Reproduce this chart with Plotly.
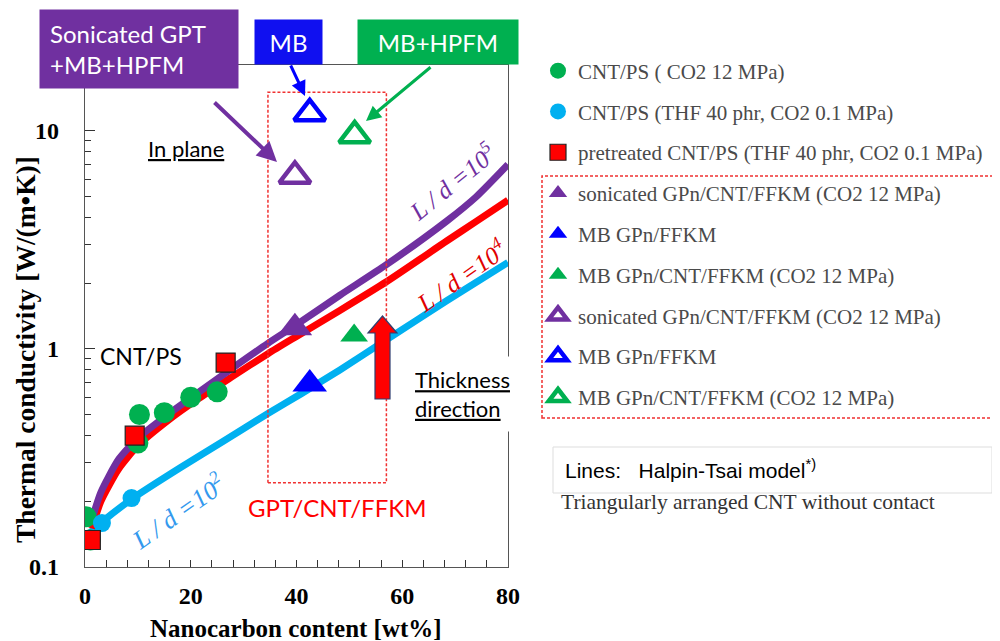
import plotly.graph_objects as go

# ---------------- data ----------------
curve_x = [1.3, 3, 6.3, 10, 15.7, 21.4, 28, 34.6, 40, 48.2, 57, 68.4, 74, 80]
curve_ld5 = [0.165, 0.22, 0.31, 0.39, 0.50, 0.63, 0.82, 1.06, 1.29, 1.76, 2.43, 3.85, 4.98, 7.0]
curve_ld4 = [0.15, 0.20, 0.28, 0.36, 0.47, 0.59, 0.75, 0.95, 1.14, 1.50, 2.03, 3.12, 3.84, 4.8]
curve_ld2_x = [0.5, 3.1, 9.1, 18, 26, 34.6, 41, 48.2, 57, 68.4, 80]
curve_ld2 = [0.14, 0.16, 0.207, 0.285, 0.375, 0.505, 0.625, 0.80, 1.10, 1.66, 2.49]

cnt_co2_x = [0.2, 1, 10, 10.3, 15, 20, 25]
cnt_co2_y = [0.17, 0.133, 0.37, 0.50, 0.51, 0.60, 0.635]
cnt_thf_x = [3.2, 8.8]
cnt_thf_y = [0.159, 0.207]
pre_cnt_x = [1.1, 9.4, 26.6]
pre_cnt_y = [0.133, 0.40, 0.865]

son_fill_x, son_fill_y = [39.7], [1.25]
mb_fill_x, mb_fill_y = [42.5], [0.69]
mbc_fill_x, mbc_fill_y = [50.9], [1.15]
son_open_x, son_open_y = [39.7], [6.2]
mb_open_x, mb_open_y = [42.5], [12.0]
mbc_open_x, mbc_open_y = [51.0], [9.5]

x_ticks = [0, 20, 40, 60, 80]
y_ticks = [0.1, 1, 10]
y_tick_labels = ["0.1", "1", "10"]

# ---------------- colours ----------------
PURPLE = "#7030A0"
RED = "#FF0000"
CYAN = "#00B0F0"
GREEN = "#00B050"
BLUE = "#0000FF"

# plot area in page pixels (the page body has an 8px margin)
OFF = 8
L, R, T, B = 85, 508, 65, 567
W, H = 992, 633


def px(x):
    return (x - L) / (R - L)


def py(y):
    return (B - y) / (B - T)


fig = go.Figure()

# Halpin-Tsai curves
for xs, ys, col in [(curve_ld2_x, curve_ld2, CYAN), (curve_x, curve_ld4, RED), (curve_x, curve_ld5, PURPLE)]:
    fig.add_trace(go.Scatter(x=xs, y=ys, mode="lines",
                             line=dict(color=col, width=7, shape="spline", smoothing=0.6),
                             showlegend=False, hoverinfo="skip"))

# markers (legend order)
fig.add_trace(go.Scatter(x=cnt_co2_x, y=cnt_co2_y, mode="markers", name="CNT/PS ( CO2 12 MPa)",
                         marker=dict(symbol="circle", size=21, color=GREEN), legendgroup="a"))
fig.add_trace(go.Scatter(x=cnt_thf_x, y=cnt_thf_y, mode="markers", name="CNT/PS (THF 40 phr, CO2 0.1 MPa)",
                         marker=dict(symbol="circle", size=18, color=CYAN), legendgroup="b"))
fig.add_trace(go.Scatter(x=pre_cnt_x, y=pre_cnt_y, mode="markers", name="pretreated CNT/PS (THF 40 phr, CO2 0.1 MPa)",
                         marker=dict(symbol="square", size=19, color=RED, line=dict(color="#222", width=1.2)),
                         legendgroup="c"))
fig.add_trace(go.Scatter(x=son_fill_x, y=son_fill_y, mode="markers", name="sonicated GPn/CNT/FFKM (CO2 12 MPa)",
                         marker=dict(symbol="triangle-up", size=30, color=PURPLE), legendgroup="d"))
fig.add_trace(go.Scatter(x=mb_fill_x, y=mb_fill_y, mode="markers", name="MB GPn/FFKM",
                         marker=dict(symbol="triangle-up", size=30, color=BLUE), legendgroup="e"))
fig.add_trace(go.Scatter(x=mbc_fill_x, y=mbc_fill_y, mode="markers", name="MB GPn/CNT/FFKM (CO2 12 MPa)",
                         marker=dict(symbol="triangle-up", size=24, color=GREEN), legendgroup="f"))
fig.add_trace(go.Scatter(x=son_open_x, y=son_open_y, mode="markers", name="sonicated GPn/CNT/FFKM (CO2 12 MPa)",
                         marker=dict(symbol="triangle-up-open", size=27, color=PURPLE, line=dict(width=4.5, color=PURPLE)),
                         legendgroup="g"))
fig.add_trace(go.Scatter(x=mb_open_x, y=mb_open_y, mode="markers", name="MB GPn/FFKM",
                         marker=dict(symbol="triangle-up-open", size=27, color=BLUE, line=dict(width=4.5, color=BLUE)),
                         legendgroup="h"))
fig.add_trace(go.Scatter(x=mbc_open_x, y=mbc_open_y, mode="markers", name="MB GPn/CNT/FFKM (CO2 12 MPa)",
                         marker=dict(symbol="triangle-up-open", size=27, color=GREEN, line=dict(width=4.5, color=GREEN)),
                         legendgroup="i"))

SERIF = "Liberation Serif, Times New Roman, serif"
SANS = "Lato, Open Sans, sans-serif"
ARIAL = "Liberation Sans, Arial, sans-serif"

annotations = []


def text(x, y, t, size=20, color="black", font=SANS, xanchor="center", yanchor="middle", **kw):
    d = dict(x=px(x), y=py(y), xref="paper", yref="paper", text=t, showarrow=False,
             xanchor=xanchor, yanchor=yanchor, font=dict(size=size, color=color, family=font))
    d.update(kw)
    annotations.append(d)


def arrow(x0, y0, x1, y1, color, width=3):
    annotations.append(dict(x=px(x1), y=py(y1), xref="paper", yref="paper", ax=x0 - x1, ay=y0 - y1,
                            axref="pixel", ayref="pixel", text="", showarrow=True, arrowhead=2,
                            arrowsize=1.0, arrowwidth=width, arrowcolor=color))


# arrows first so the boxes sit over their tails
arrow(213, 101, 277, 162, PURPLE, 4)
arrow(290, 64, 305, 96, BLUE, 3)
arrow(432, 66, 366, 121, GREEN, 3)

# boxes at top
text(139, 49, "Sonicated GPT<br>+MB+HPFM", size=24, color="white", bgcolor=PURPLE, width=178, height=58,
     borderpad=10, align="left")
text(288, 42, "MB", size=24, color="white", bgcolor="#1010F0", width=59, height=36, borderpad=4)
text(438, 42, "MB+HPFM", size=24, color="white", bgcolor=GREEN, width=152, height=36, borderpad=4)

text(186, 148, "<u>In plane</u>", size=22)
text(141, 356, "CNT/PS", size=23)
text(463, 394, "<u>Thickness</u><br><u>direction</u>", size=22, bgcolor="white", width=97, height=58,
     borderpad=8, align="left")
text(337, 507, "GPT/CNT/FFKM", size=24, color=RED)

# L/d labels
text(452, 181, "<i>L / d =10<sup>5</sup></i>", size=25, color=PURPLE, font=SERIF, textangle=-39)
text(461, 275, "<i>L / d =10<sup>4</sup></i>", size=25, color="#E00000", font=SERIF, textangle=-35)
text(177, 511, "<i>L / d =10<sup>2</sup></i>", size=26, color="#3399EE", font=SERIF, textangle=-35)

# axis titles
text(296, 628, "<b>Nanocarbon content [wt%]</b>", size=25, font=SERIF)
text(26, 350, "<b>Thermal conductivity [W/(m•K)]</b>", size=27.5, font=SERIF, textangle=-90)

# right-hand notes
text(563, 469, "Lines:   Halpin-Tsai model<sup>*)</sup>", size=21, font=ARIAL, xanchor="left")
text(559, 502, "Triangularly arranged CNT without contact", size=21.5, color="#333", font=SERIF,
     xanchor="left")

shapes = [
    # dashed box in plot
    dict(type="rect", xref="x", yref="y", x0=34.6, x1=57.0, y0=0.243, y1=15.0,
         line=dict(color="#F03030", width=1.5, dash="3px,2px")),
    # dashed box round the triangle legend entries
    dict(type="rect", xref="paper", yref="paper", x0=px(542), x1=px(999), y0=py(418), y1=py(176),
         line=dict(color="#F03030", width=1.5, dash="3px,2px")),
    # box round "Lines" note
    dict(type="rect", xref="paper", yref="paper", x0=px(553), x1=px(992), y0=py(493), y1=py(447),
         line=dict(color="#DDDDDD", width=1)),
    # thick red arrow (thickness direction)
    dict(type="path", xref="paper", yref="paper",
         path=("M {a},{b} L {c},{b} L {c},{d} L {e},{d} L {f},{g} L {h},{d} L {a},{d} Z").format(
             a=px(375), b=py(399), c=px(390), d=py(333), e=px(397), f=px(382.5), g=py(316), h=px(368)),
         fillcolor=RED, line=dict(color="#2F3F70", width=1.2)),
]

fig.update_layout(
    width=W, height=H,
    margin=dict(l=L - OFF, r=W - (R - OFF), t=T - OFF, b=H - (B - OFF), autoexpand=False),
    paper_bgcolor="white", plot_bgcolor="white",
    annotations=annotations, shapes=shapes,
    legend=dict(x=px(538), y=py(234), xanchor="left", yanchor="middle", traceorder="grouped",
                tracegroupgap=10.5, itemsizing="trace", itemwidth=30,
                font=dict(family=SERIF, size=21, color="#4a4a4a"), bgcolor="rgba(0,0,0,0)"),
    showlegend=True,
)

fig.update_xaxes(range=[0, 80], tickvals=x_ticks, ticks="inside", ticklen=7, tickwidth=1, tickcolor="#333",
                 showline=True, linecolor="#555", linewidth=1.2, mirror=True, showgrid=False, zeroline=False,
                 tickfont=dict(family=SERIF, size=24, color="black", weight="bold"), ticklabelstandoff=7,
                 minor=dict(dtick=4, ticks="inside", ticklen=7, tickcolor="#333", showgrid=False))
fig.update_yaxes(type="log", range=[-1, 1.301], tickvals=y_ticks, ticktext=y_tick_labels, ticks="inside",
                 ticklen=10, tickwidth=1, tickcolor="#333",
                 showline=True, linecolor="#555", linewidth=1.2, mirror=True, showgrid=False, zeroline=False,
                 tickfont=dict(family=SERIF, size=24, color="black", weight="bold"), ticklabelstandoff=20,
                 minor=dict(dtick="D1", ticks="inside", ticklen=6, tickcolor="#333", showgrid=False))

fig.write_html("out.html")
